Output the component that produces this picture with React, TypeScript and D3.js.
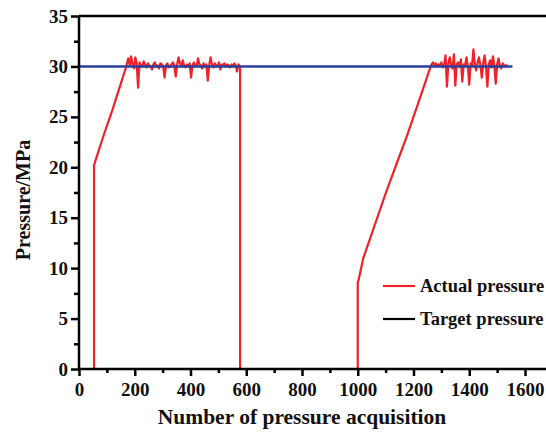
import React, { useEffect, useRef } from 'react';
import * as d3 from 'd3';

// ramp / step parts of the actual pressure trace
const rampOne: [number, number][] = [
  [0, 0], [54, 0], [54, 20.2], [63, 21], [90, 23.3], [120, 25.7], [150, 28.3], [171, 30.1],
];
const rampTwo: [number, number][] = [
  [578, 30], [578, 0], [1000, 0], [1000, 8.5], [1006, 9.2], [1020, 11], [1055, 13.8],
  [1100, 17.4], [1140, 20.4], [1175, 23], [1220, 26.6], [1263, 30.1],
];

// noisy plateau around the target, sampled every 5 acquisitions
const plateauOneStart = 172;
const plateauOne = [
  30.3, 30.8, 30.1, 31.0, 30.2, 29.8, 30.9, 30.3, 27.9, 30.4, 30.1, 30.0, 30.5, 30.2, 29.9, 30.3,
  30.1, 30.0, 29.7, 30.2, 30.4, 30.0, 30.1, 29.8, 30.3, 30.2, 30.0, 28.9, 30.1, 30.3, 29.9, 30.0,
  30.2, 30.4, 30.1, 29.0, 30.2, 30.9, 30.3, 30.0, 30.6, 30.1, 29.9, 30.2, 30.0, 30.3, 28.9, 30.1,
  30.4, 30.1, 30.0, 30.8, 30.2, 30.1, 29.8, 30.3, 30.0, 30.2, 28.6, 30.1, 30.9, 30.2, 29.9, 30.3,
  30.1, 30.0, 30.4, 29.7, 30.2, 30.1, 30.3, 30.0, 30.2, 30.1, 29.9, 30.2, 30.0, 30.3, 30.1, 29.5,
  30.2, 30.0,
];
const plateauTwoStart = 1265;
const plateauTwo = [
  30.2, 30.4, 30.1, 30.3, 30.0, 30.2, 30.1, 30.4, 29.9, 30.2, 31.1, 28.0, 30.3, 30.9, 30.1, 29.8,
  31.2, 28.1, 30.2, 30.4, 30.0, 30.7, 28.5, 30.2, 30.1, 30.9, 30.0, 28.2, 30.3, 30.1, 31.7, 30.2,
  29.6, 30.4, 30.9, 30.1, 28.9, 30.3, 31.1, 30.0, 28.0, 30.2, 30.6, 29.9, 31.0, 30.1, 28.3, 30.2,
  30.8, 30.0, 29.8, 30.3, 30.1, 30.0, 30.2,
];

const targetPressure = 30;
const targetRange = [0, 1555];

const xTicks = [0, 200, 400, 600, 800, 1000, 1200, 1400, 1600];
const yTicks = [0, 5, 10, 15, 20, 25, 30, 35];
const legendItems = [
  { label: 'Actual pressure', color: '#ee2227' },
  { label: 'Target pressure', color: '#000000' },
];

const W = 546;
const H = 437;
const font = '"Liberation Serif", "Times New Roman", serif';

export default function App() {
  const ref = useRef<SVGSVGElement>(null);

  useEffect(() => {
    const svg = d3.select(ref.current);
    svg.selectAll('*').remove();

    const x = d3.scaleLinear().domain([0, 1600]).range([79, 525]);
    const y = d3.scaleLinear().domain([0, 35]).range([369, 16]);

    // build actual pressure trace
    const actual: [number, number][] = [
      ...rampOne,
      ...plateauOne.map((v, i) => [plateauOneStart + i * 5, v] as [number, number]),
      ...rampTwo,
      ...plateauTwo.map((v, i) => [plateauTwoStart + i * 5, v] as [number, number]),
    ];

    const line = d3.line<[number, number]>().x(d => x(d[0])).y(d => y(d[1]));

    svg.append('path')
      .datum(actual)
      .attr('d', line)
      .attr('fill', 'none')
      .attr('stroke', '#ee2227')
      .attr('stroke-width', 2.2)
      .attr('stroke-linejoin', 'round');

    svg.append('line')
      .attr('x1', x(targetRange[0])).attr('x2', x(targetRange[1]))
      .attr('y1', y(targetPressure)).attr('y2', y(targetPressure))
      .attr('stroke', '#2b3f9c')
      .attr('stroke-width', 2.4);

    // frame top
    svg.append('line')
      .attr('x1', x(0)).attr('x2', W)
      .attr('y1', y(35)).attr('y2', y(35))
      .attr('stroke', '#000').attr('stroke-width', 2.5);

    const xAxis = svg.append('g')
      .attr('transform', `translate(0,${y(0)})`)
      .call(d3.axisBottom(x).tickValues(xTicks).tickSize(7).tickPadding(7).tickFormat(d3.format('d')));
    xAxis.select('.domain').attr('d', `M${x(0)},0H${W}`).attr('stroke-width', 2.5).attr('stroke', '#000');
    xAxis.selectAll('line').attr('stroke-width', 2.5).attr('stroke', '#000');

    svg.append('g')
      .attr('transform', `translate(0,${y(0)})`)
      .call(d3.axisBottom(x).tickValues(d3.range(100, 1700, 200)).tickSize(4).tickFormat(() => ''))
      .call(g => g.select('.domain').remove())
      .selectAll('line').attr('stroke-width', 2.5).attr('stroke', '#000');

    const yAxis = svg.append('g')
      .attr('transform', `translate(${x(0)},0)`)
      .call(d3.axisLeft(y).tickValues(yTicks).tickSize(8).tickPadding(3));
    yAxis.select('.domain').attr('d', `M0,${y(0)}V${y(35)}`).attr('stroke-width', 2.5).attr('stroke', '#000');
    yAxis.selectAll('line').attr('stroke-width', 2.5).attr('stroke', '#000');

    svg.append('g')
      .attr('transform', `translate(${x(0)},0)`)
      .call(d3.axisLeft(y).tickValues(d3.range(2.5, 35, 5)).tickSize(5).tickFormat(() => ''))
      .call(g => g.select('.domain').remove())
      .selectAll('line').attr('stroke-width', 2.5).attr('stroke', '#000');

    svg.selectAll('.tick text')
      .attr('font-family', font)
      .attr('font-weight', 'bold')
      .attr('font-size', 19)
      .attr('fill', '#111');

    svg.append('text')
      .attr('x', 302).attr('y', 424)
      .attr('text-anchor', 'middle')
      .attr('font-family', font).attr('font-weight', 'bold').attr('font-size', 21.5)
      .attr('fill', '#111')
      .text('Number of pressure acquisition');

    svg.append('text')
      .attr('transform', `translate(30,200) rotate(-90)`)
      .attr('text-anchor', 'middle')
      .attr('font-family', font).attr('font-weight', 'bold').attr('font-size', 20)
      .attr('fill', '#111')
      .text('Pressure/MPa');

    const legend = svg.append('g').attr('transform', 'translate(383,286)');
    legendItems.forEach((item, i) => {
      const g = legend.append('g').attr('transform', `translate(0,${i * 33})`);
      g.append('line').attr('x1', 0).attr('x2', 32).attr('stroke', item.color).attr('stroke-width', 2.2);
      g.append('text')
        .attr('x', 37).attr('dy', '0.35em')
        .attr('font-family', font).attr('font-weight', 'bold').attr('font-size', 18.5)
        .attr('fill', '#111')
        .text(item.label);
    });
  }, []);

  return (
    <svg ref={ref} width={W} height={H} style={{ position: 'absolute', left: 0, top: 0, background: '#fff' }} />
  );
}
